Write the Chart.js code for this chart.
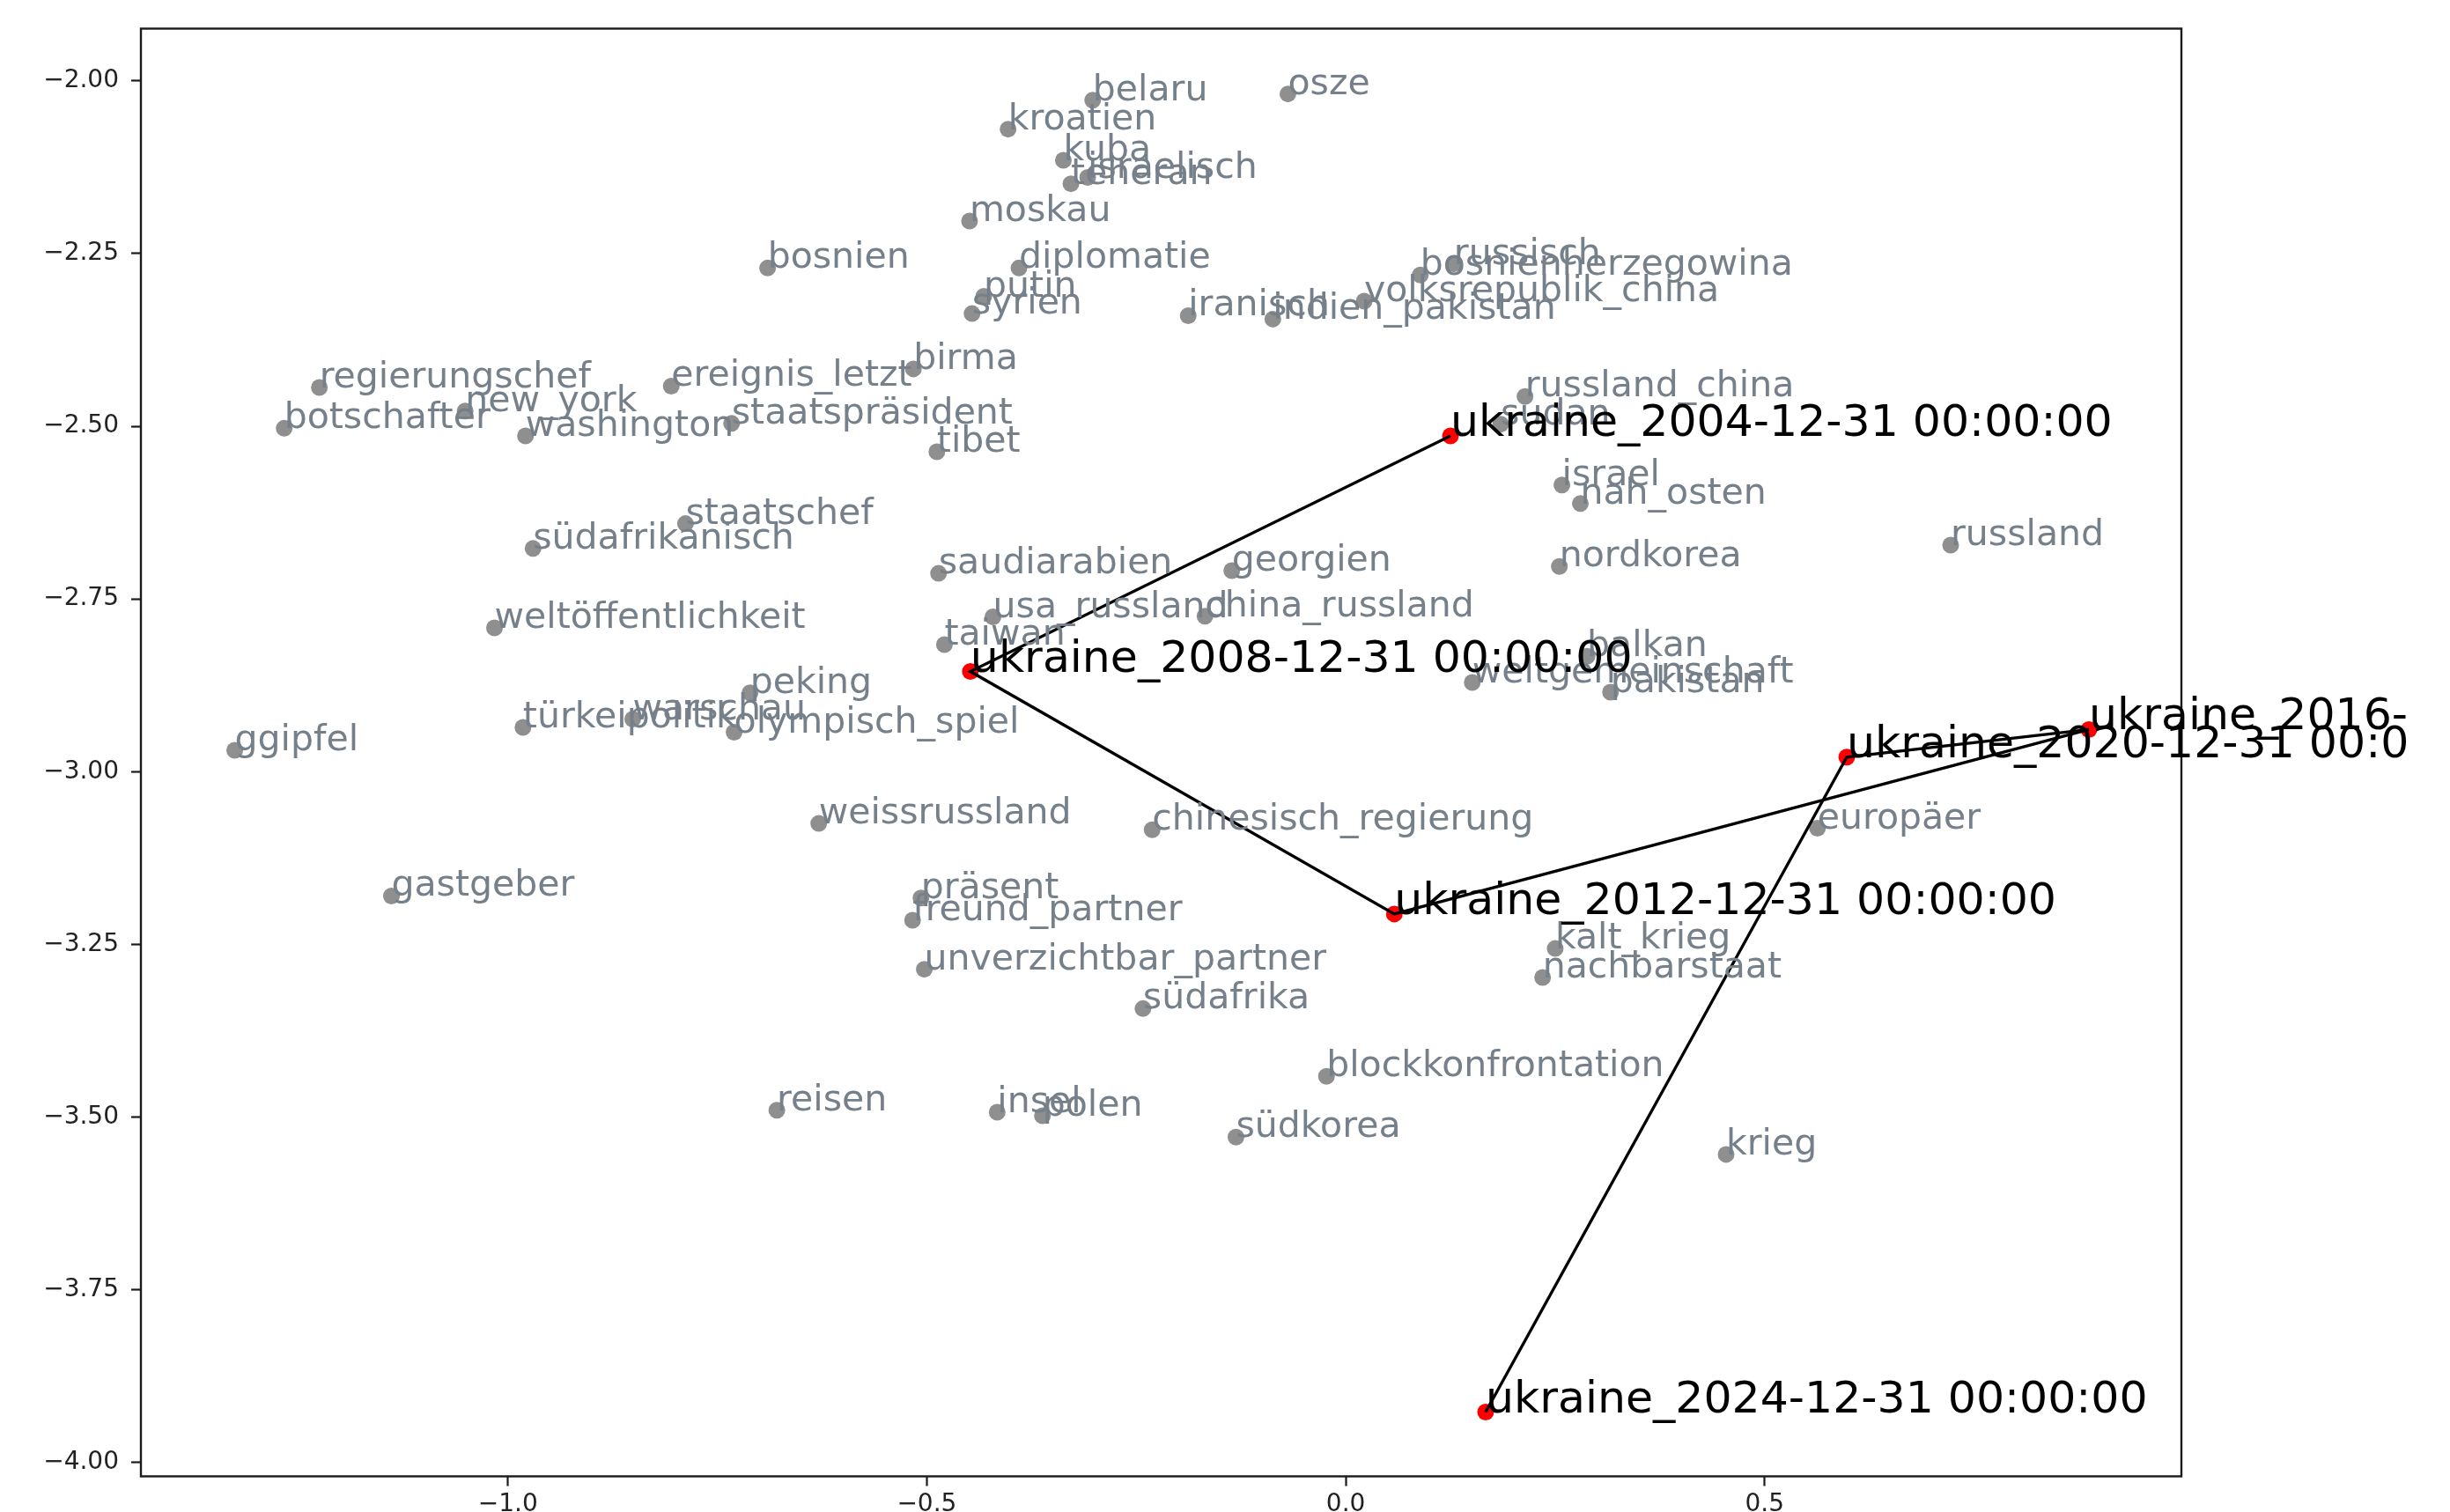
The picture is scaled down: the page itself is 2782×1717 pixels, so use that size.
<!DOCTYPE html>
<html>
<head>
<meta charset="utf-8">
<script src="https://cdn.jsdelivr.net/npm/chart.js@4.4.1/dist/chart.umd.min.js"></script>
<style>
  html, body { margin: 0; padding: 0; background: #fff; overflow: hidden; }
  canvas { display: block; }
</style>
</head>
<body>
<canvas id="chart" width="2782" height="1717"></canvas>
<script>
// Wörter der Umgebung (grau)
const words = [
  'belaru', 'osze', 'kroatien', 'kuba', 'israelisch', 'teheran', 'moskau', 'bosnien',
  'diplomatie', 'putin', 'syrien', 'iranisch', 'indien_pakistan', 'volksrepublik_china',
  'bosnienherzegowina', 'russisch', 'birma', 'ereignis_letzt', 'regierungschef', 'new_york',
  'botschafter', 'washington', 'staatspräsident', 'tibet', 'russland_china', 'sudan',
  'israel', 'nah_osten', 'russland', 'staatschef', 'südafrikanisch', 'saudiarabien',
  'georgien', 'nordkorea', 'weltöffentlichkeit', 'usa_russland', 'china_russland', 'taiwan',
  'peking', 'türkeipolitik', 'warschau', 'olympisch_spiel', 'ggipfel', 'balkan',
  'weltgemeinschaft', 'pakistan', 'weissrussland', 'chinesisch_regierung', 'europäer',
  'gastgeber', 'präsent', 'freund_partner', 'kalt_krieg', 'nachbarstaat',
  'unverzichtbar_partner', 'südafrika', 'blockkonfrontation', 'reisen', 'insel', 'polen',
  'südkorea', 'krieg'
];
const wordX = [
  -0.302, -0.069, -0.403, -0.337, -0.308, -0.328, -0.449, -0.690,
  -0.390, -0.432, -0.446, -0.188, -0.087, 0.022,
  0.089, 0.129, -0.516, -0.805, -1.225, -1.051,
  -1.267, -0.979, -0.733, -0.488, 0.214, 0.185,
  0.258, 0.280, 0.722, -0.788, -0.970, -0.486,
  -0.136, 0.255, -1.016, -0.421, -0.168, -0.479,
  -0.711, -0.982, -0.851, -0.730, -1.326, 0.288,
  0.151, 0.316, -0.629, -0.231, 0.563,
  -1.139, -0.507, -0.517, 0.250, 0.235,
  -0.503, -0.242, -0.023, -0.679, -0.416, -0.362,
  -0.131, 0.454
];
const wordY = [
  -2.028, -2.019, -2.070, -2.115, -2.140, -2.149, -2.203, -2.271,
  -2.271, -2.312, -2.337, -2.340, -2.345, -2.319,
  -2.281, -2.265, -2.417, -2.442, -2.444, -2.478,
  -2.503, -2.514, -2.496, -2.537, -2.457, -2.497,
  -2.585, -2.612, -2.672, -2.641, -2.677, -2.713,
  -2.709, -2.703, -2.792, -2.776, -2.775, -2.816,
  -2.886, -2.936, -2.924, -2.943, -2.969, -2.833,
  -2.871, -2.885, -3.075, -3.084, -3.082,
  -3.180, -3.183, -3.215, -3.256, -3.298,
  -3.286, -3.343, -3.441, -3.490, -3.493, -3.498,
  -3.529, -3.554
];

// Ukraine über die Zeit (rot, verbunden)
const ukraineLabels = [
  'ukraine_2004-12-31 00:00:00', 'ukraine_2008-12-31 00:00:00', 'ukraine_2012-12-31 00:00:00',
  'ukraine_2016-12-31 00:00:00', 'ukraine_2020-12-31 00:00:00', 'ukraine_2024-12-31 00:00:00'
];
const ukraineX = [0.125, -0.448, 0.058, 0.887, 0.598, 0.167];
const ukraineY = [-2.514, -2.855, -3.206, -2.939, -2.979, -3.927];

// Achsen
const xTicks = [-1.0, -0.5, 0.0, 0.5];
const xTickLabels = ['\u22121.0', '\u22120.5', '0.0', '0.5'];
const yTicks = [-2.0, -2.25, -2.5, -2.75, -3.0, -3.25, -3.5, -3.75, -4.0];
const yTickLabels = ['\u22122.00', '\u22122.25', '\u22122.50', '\u22122.75', '\u22123.00',
  '\u22123.25', '\u22123.50', '\u22123.75', '\u22124.00'];
const xRange = [-1.438, 0.9974];
const yRange = [-4.020, -1.9245];

const wordPoints = words.map((w, i) => ({ x: wordX[i], y: wordY[i] }));
const ukrainePoints = ukraineLabels.map((l, i) => ({ x: ukraineX[i], y: ukraineY[i] }));

// Rahmen und Beschriftungen
const labelPlugin = {
  id: 'labelPlugin',
  afterDatasetsDraw(chart) {
    const { ctx, chartArea, scales } = chart;
    ctx.save();
    ctx.strokeStyle = '#1a1a1a';
    ctx.lineWidth = 2.4;
    ctx.strokeRect(chartArea.left, chartArea.top,
      chartArea.right - chartArea.left, chartArea.bottom - chartArea.top);

    // die Originalgrafik ist rechts abgeschnitten
    ctx.beginPath();
    ctx.rect(0, 0, 2732, chart.height);
    ctx.clip();

    ctx.textAlign = 'left';
    ctx.textBaseline = 'alphabetic';
    ctx.font = '41px "DejaVu Sans"';
    ctx.fillStyle = '#76808a';
    words.forEach((w, i) => {
      ctx.fillText(w, scales.x.getPixelForValue(wordX[i]), scales.y.getPixelForValue(wordY[i]));
    });

    ctx.font = '50.5px "DejaVu Sans"';
    ctx.fillStyle = '#000';
    ukraineLabels.forEach((l, i) => {
      ctx.fillText(l, scales.x.getPixelForValue(ukraineX[i]), scales.y.getPixelForValue(ukraineY[i]));
    });
    ctx.restore();
  }
};

const tickFont = { family: 'DejaVu Sans', size: 28 };

new Chart(document.getElementById('chart'), {
  type: 'scatter',
  data: {
    datasets: [
      {
        label: 'verlauf',
        data: ukrainePoints,
        showLine: true,
        borderColor: '#000',
        borderWidth: 3.4,
        pointRadius: 0,
        tension: 0,
        order: 0
      },
      {
        label: 'ukraine',
        data: ukrainePoints,
        pointRadius: 9.5,
        pointBackgroundColor: '#ff0000',
        pointBorderWidth: 0,
        order: 1
      },
      {
        label: 'wörter',
        data: wordPoints,
        pointRadius: 9.5,
        pointBackgroundColor: '#8f8f8f',
        pointBorderWidth: 0,
        order: 2
      }
    ]
  },
  options: {
    responsive: false,
    devicePixelRatio: 1,
    animation: false,
    layout: { padding: { top: 32.5, right: 305, left: 0, bottom: 0 } },
    plugins: {
      legend: { display: false },
      tooltip: { enabled: false }
    },
    scales: {
      x: {
        type: 'linear',
        min: xRange[0],
        max: xRange[1],
        afterBuildTicks: (axis) => { axis.ticks = xTicks.map(v => ({ value: v })); },
        afterFit: (axis) => { axis.height = 40.5; },
        border: { display: false },
        grid: { drawOnChartArea: false, drawTicks: true, tickLength: 11, tickWidth: 2.2, tickColor: '#1a1a1a' },
        ticks: {
          padding: 4,
          font: tickFont,
          color: '#222',
          maxRotation: 0,
          autoSkip: false,
          callback: (value, index) => xTickLabels[index]
        }
      },
      y: {
        type: 'linear',
        min: yRange[0],
        max: yRange[1],
        afterBuildTicks: (axis) => { axis.ticks = yTicks.map(v => ({ value: v })); },
        afterFit: (axis) => { axis.width = 160; },
        border: { display: false },
        grid: { drawOnChartArea: false, drawTicks: true, tickLength: 11, tickWidth: 2.2, tickColor: '#1a1a1a' },
        ticks: {
          padding: 14,
          font: tickFont,
          color: '#222',
          autoSkip: false,
          callback: (value, index) => yTickLabels[index]
        }
      }
    }
  },
  plugins: [labelPlugin]
});
</script>
</body>
</html>
